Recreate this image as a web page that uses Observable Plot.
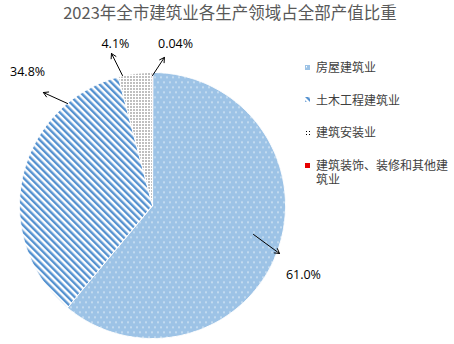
<!DOCTYPE html>
<html>
<head>
<meta charset="utf-8">
<script src="https://cdn.jsdelivr.net/npm/d3@7"></script>
<script src="https://cdn.jsdelivr.net/npm/@observablehq/plot@0.6"></script>
<style>
  body { margin: 0; background: #fff; }
  #wrap { position: relative; width: 454px; height: 344px; overflow: hidden; background: #fff; }
  #title { position: absolute; left: 6px; top: 0; width: 448px; line-height: normal; text-align: center;
           font-family: "Noto Sans CJK SC", sans-serif; font-size: 16.5px; color: #595959; }
  #chart { position: absolute; left: 0; top: 0; }
  #legend { position: absolute; left: 305px; top: 60px; font-family: "Noto Sans CJK SC", sans-serif;
            font-size: 12px; color: #404040; }
  .item { display: flex; align-items: flex-start; margin-bottom: 19.2px; }
  .item svg { margin-top: 4.5px; margin-right: 6px; flex: none; }
  .item span { display: block; width: 134px; line-height: 13.5px; }
</style>
</head>
<body>
<div id="wrap">
  <div id="chart"></div>
  <div id="title"></div>
  <div id="legend"></div>
</div>
<script>
const titleText = "2023年全市建筑业各生产领域占全部产值比重";
const categories = ["房屋建筑业", "土木工程建筑业", "建筑安装业", "建筑装饰、装修和其他建筑业"];
const shares = [61.0, 34.8, 4.1, 0.04];
const labels = ["61.0%", "34.8%", "4.1%", "0.04%"];

// layout (label and leader placement, polar: degrees clockwise from top, radius in pie radii)
const labelPolar = [[114.6, 1.248], [316.8, 1.372], [347.1, 1.249], [8.1, 1.23]];
const arrowFrom = [[106.0, 0.79], [320.2, 0.998], [347.0, 1.003], [0.0, 0.977]];
const arrowTo = [[110.7, 1.021], [316.0, 1.181], [344.9, 1.184], [4.6, 1.117]];
const fills = ["url(#pHouse)", "url(#pCivil)", "url(#pInstall)", "#e60000"];

document.getElementById("title").textContent = titleText;

const total = d3.sum(shares);
const rad = (deg) => deg * Math.PI / 180;
const px = (a, r) => r * Math.sin(rad(a));
const py = (a, r) => r * Math.cos(rad(a));

// slice outlines
let start = 0;
const slices = shares.map((v, i) => {
  const a0 = start, a1 = start + v / total * 360;
  start = a1;
  const pts = [{x: 0, y: 0}];
  const n = Math.max(2, Math.ceil((a1 - a0) / 0.5));
  for (let k = 0; k <= n; k++) {
    const a = a0 + (a1 - a0) * k / n;
    pts.push({x: px(a, 1), y: py(a, 1)});
  }
  return {cat: categories[i], pts};
});

const labelData = labels.map((t, i) => ({t, x: px(...labelPolar[i]), y: py(...labelPolar[i])}));
const arrowData = labels.map((t, i) => ({
  x1: px(...arrowFrom[i]), y1: py(...arrowFrom[i]),
  x2: px(...arrowTo[i]), y2: py(...arrowTo[i])
}));

const plot = Plot.plot({
  width: 454,
  height: 344,
  marginLeft: 19,
  marginRight: 169,
  marginTop: 72,
  marginBottom: 6,
  x: {domain: [-1, 1], axis: null},
  y: {domain: [-1, 1], axis: null},
  style: {background: "transparent", overflow: "visible"},
  marks: [
    ...slices.map((s, i) => Plot.line(s.pts, {
      x: "x", y: "y", fill: fills[i], stroke: "white", strokeWidth: 1, curve: "linear-closed"
    })),
    Plot.arrow(arrowData, {x1: "x1", y1: "y1", x2: "x2", y2: "y2", stroke: "black", strokeWidth: 1, headLength: 8}),
    Plot.text(labelData, {x: "x", y: "y", text: "t", fill: "black", fontSize: 12.5,
      fontFamily: "Open Sans, sans-serif"})
  ]
});

const defs = d3.select(plot).insert("defs", ":first-child");
// house: light blue with sparse white dots
const p1 = defs.append("pattern").attr("id", "pHouse").attr("patternUnits", "userSpaceOnUse")
  .attr("width", 6).attr("height", 10);
p1.append("rect").attr("width", 6).attr("height", 10).attr("fill", "#9dc3e6");
p1.append("rect").attr("x", 1).attr("y", 1).attr("width", 1).attr("height", 1.5).attr("fill", "#ffffff");
p1.append("rect").attr("x", 4).attr("y", 6).attr("width", 1).attr("height", 1.5).attr("fill", "#ffffff");
// civil: blue diagonal stripes on white
const period = 4.8;
const p2 = defs.append("pattern").attr("id", "pCivil").attr("patternUnits", "userSpaceOnUse")
  .attr("width", period).attr("height", period).attr("patternTransform", "rotate(-45)");
p2.append("rect").attr("width", period).attr("height", period).attr("fill", "#ffffff");
p2.append("rect").attr("width", 2.4).attr("height", period).attr("fill", "#5592d0");
// install: black dots on white
const p3 = defs.append("pattern").attr("id", "pInstall").attr("patternUnits", "userSpaceOnUse")
  .attr("width", 3).attr("height", 3);
p3.append("rect").attr("width", 3).attr("height", 3).attr("fill", "#ffffff");
p3.append("rect").attr("x", 1).attr("y", 1).attr("width", 1).attr("height", 1).attr("fill", "#000000");

document.getElementById("chart").appendChild(plot);

// legend
const legend = d3.select("#legend");
categories.forEach((c, i) => {
  const item = legend.append("div").attr("class", "item");
  const sw = item.append("svg").attr("width", 5).attr("height", 5);
  sw.append("rect").attr("width", 5).attr("height", 5).attr("fill", fills[i]);
  item.append("span").text(c);
});
</script>
</body>
</html>
